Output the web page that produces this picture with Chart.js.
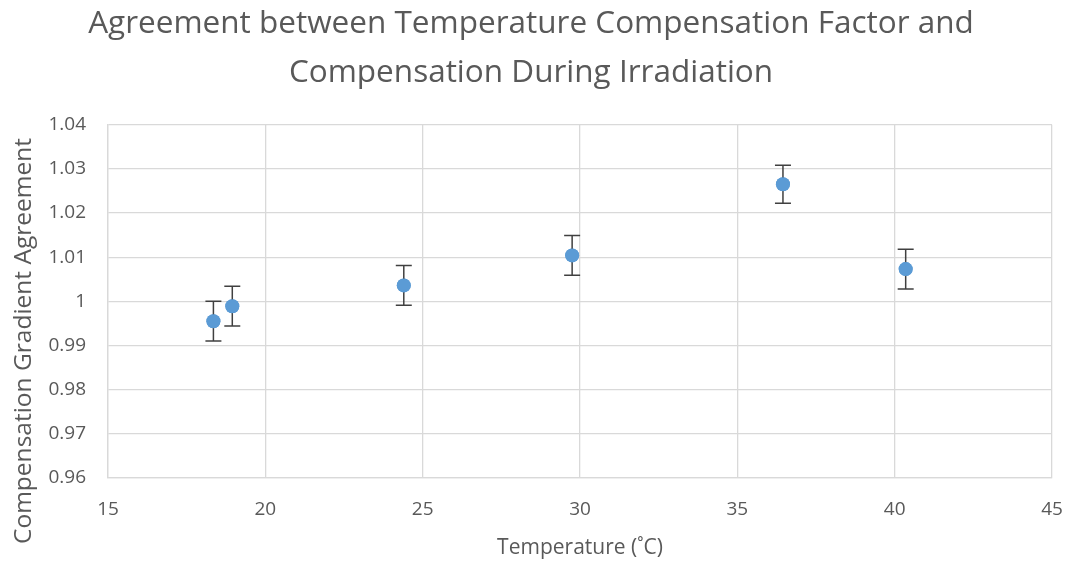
<!DOCTYPE html>
<html><head><meta charset="utf-8">
<script src="https://cdn.jsdelivr.net/npm/chart.js@4.4.1/dist/chart.umd.min.js"></script>
<style>html,body{margin:0;padding:0;background:#fff;}#wrap{width:1068px;height:561px;}</style>
</head><body><div id="wrap"><canvas id="c" width="1068" height="561"></canvas></div>
<script>
const temperatures = [18.35, 18.95, 24.4, 29.75, 36.45, 40.35];
const agreement = [0.9955, 0.9989, 1.0036, 1.0104, 1.0265, 1.0073];
const errors = [0.0045, 0.0045, 0.0045, 0.0045, 0.0043, 0.0045];
const titleLines = ['Agreement between Temperature Compensation Factor and', 'Compensation During Irradiation'];
const xTitle = 'Temperature (˚C)';
const yTitle = 'Compensation Gradient Agreement';

const FONT = "'Open Sans', sans-serif";
const GREY = '#595959';

const errPlugin = {
  id: 'errbars',
  afterDatasetsDraw(chart) {
    const ctx = chart.ctx, xs = chart.scales.x, ys = chart.scales.y;
    ctx.save();
    ctx.strokeStyle = '#404040';
    ctx.lineWidth = 1.5;
    temperatures.forEach((t, i) => {
      const x = xs.getPixelForValue(t);
      const y1 = ys.getPixelForValue(agreement[i] + errors[i]);
      const y2 = ys.getPixelForValue(agreement[i] - errors[i]);
      ctx.beginPath();
      ctx.moveTo(x, y1); ctx.lineTo(x, y2);
      ctx.moveTo(x - 8, y1); ctx.lineTo(x + 8, y1);
      ctx.moveTo(x - 8, y2); ctx.lineTo(x + 8, y2);
      ctx.stroke();
    });
    ctx.restore();
    const meta = chart.getDatasetMeta(0);
    meta.data.forEach(p => p.draw(ctx));
  }
};

const yTitlePlugin = {
  id: 'ytitle',
  afterDraw(chart) {
    const ctx = chart.ctx;
    ctx.save();
    ctx.translate(24, 341);
    ctx.rotate(-Math.PI / 2);
    ctx.fillStyle = GREY;
    ctx.font = "24.5px 'Open Sans', sans-serif";
    ctx.textAlign = 'center';
    ctx.textBaseline = 'middle';
    ctx.fillText(yTitle, 0, 0);
    ctx.restore();
  }
};

new Chart(document.getElementById('c'), {
  type: 'scatter',
  data: {
    datasets: [{
      data: temperatures.map((t, i) => ({x: t, y: agreement[i]})),
      backgroundColor: '#5b9bd5',
      borderColor: '#5b9bd5',
      pointRadius: 7,
      pointHoverRadius: 7,
      borderWidth: 0
    }]
  },
  options: {
    responsive: false,
    animation: false,
    devicePixelRatio: 1,
    layout: {padding: {top: 0, left: 0, right: 6, bottom: 0}},
    plugins: {
      legend: {display: false},
      tooltip: {enabled: false},
      title: {
        display: true,
        text: titleLines,
        color: GREY,
        font: {family: FONT, size: 31.5, weight: 'normal', lineHeight: 1.55},
        padding: {top: 0, bottom: 27}
      }
    },
    scales: {
      x: {
        type: 'linear', min: 15, max: 45,
        afterFit(s) { s.height = 83; s.paddingRight = 16; s.paddingLeft = 0; },
        ticks: {stepSize: 5, color: GREY, font: {family: FONT, size: 19}, padding: 20},
        grid: {color: '#d9d9d9', lineWidth: 1.3, drawTicks: false},
        border: {color: '#d9d9d9', width: 1.3},
        title: {display: true, text: xTitle, color: GREY, font: {family: FONT, size: 21, lineHeight: 1.2}, padding: {top: 0, bottom: 0}}
      },
      y: {
        min: 0.96, max: 1.04,
        afterFit(s) { s.width = 108; s.paddingTop = 0; s.paddingBottom = 0; },
        ticks: {stepSize: 0.01, color: GREY, font: {family: FONT, size: 19}, padding: 22,
          callback: v => String(Math.round(v * 100) / 100)},
        grid: {color: '#d9d9d9', lineWidth: 1.3, drawTicks: false},
        border: {color: '#d9d9d9', width: 1.3},
        title: {display: false}
      }
    }
  },
  plugins: [errPlugin, yTitlePlugin]
});
</script></body></html>
